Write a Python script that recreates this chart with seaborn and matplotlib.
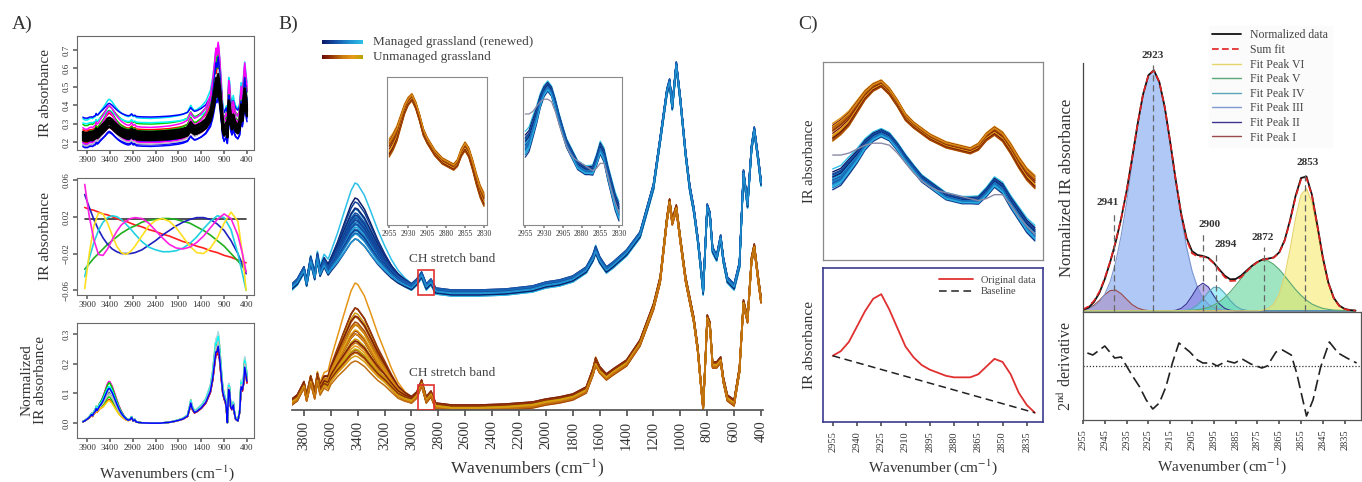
import numpy as np
import pandas as pd
import seaborn as sns
import matplotlib.pyplot as plt
from matplotlib.colors import LinearSegmentedColormap
from matplotlib.lines import Line2D
from matplotlib.patches import Rectangle

sns.set_theme(style="white")
plt.rcParams["font.family"] = ["Liberation Serif", "DejaVu Serif"]
plt.rcParams["mathtext.fontset"] = "stix"

# ---------------- data ----------------
# common wavenumber grid for the full spectra (cm-1)
wn_full = [3990, 3950, 3890, 3850, 3800, 3780, 3750, 3720, 3700, 3680,
           3650, 3620, 3600, 3550, 3500, 3450, 3420, 3400, 3350, 3300,
           3250, 3200, 3150, 3100, 3050, 3000, 2960, 2925, 2890, 2855,
           2820, 2700, 2500, 2300, 2100, 2000, 1900, 1800, 1700, 1650,
           1630, 1600, 1550, 1500, 1400, 1300, 1200, 1150, 1100, 1080,
           1060, 1030, 1000, 960, 930, 900, 870, 850, 830, 810,
           800, 780, 760, 730, 700, 680, 650, 600, 560, 530,
           500, 470, 450, 420, 400]

# shape of the O-H (water) band, used for sample-to-sample spread
water_band = [0, 0, 0, 0.02, 0.04, 0.05, 0.07, 0.09, 0.11, 0.13,
              0.17, 0.23, 0.3, 0.5, 0.72, 0.92, 1.0, 0.99, 0.9, 0.75,
              0.58, 0.42, 0.28, 0.17, 0.09, 0.04, 0.02, 0.01, 0, 0,
              0, 0, 0, 0, 0, 0, 0, 0, 0.01, 0.05,
              0.08, 0.04, 0.01, 0, 0, 0, 0, 0, 0, 0,
              0, 0, 0, 0, 0, 0, 0, 0, 0, 0,
              0, 0, 0, 0, 0, 0, 0, 0, 0, 0,
              0, 0, 0, 0, 0]

# panel A, raw spectra (median curve)
a1_base = [0.22, 0.215, 0.215, 0.22, 0.222, 0.22, 0.225, 0.228, 0.24, 0.232,
           0.236, 0.245, 0.25, 0.262, 0.275, 0.29, 0.295, 0.294, 0.285, 0.272,
           0.26, 0.25, 0.242, 0.236, 0.231, 0.228, 0.23, 0.238, 0.228, 0.231,
           0.224, 0.222, 0.221, 0.223, 0.226, 0.229, 0.232, 0.237, 0.246, 0.265,
           0.272, 0.262, 0.252, 0.255, 0.268, 0.288, 0.33, 0.38, 0.455, 0.49,
           0.475, 0.51, 0.46, 0.36, 0.27, 0.245, 0.26, 0.27, 0.235, 0.33,
           0.38, 0.365, 0.31, 0.28, 0.31, 0.29, 0.27, 0.258, 0.28, 0.36,
           0.33, 0.4, 0.44, 0.39, 0.36]
a1_offset = [0.32, 0.33, 0.29, 0.30, 0.27, 0.26, 0.25, 0.25, 0.24, 0.23, 0.23, 0.22,
             0.22, 0.22, 0.21, 0.21, 0.21, 0.20, 0.20, 0.19, 0.19, 0.18, 0.18, 0.17]
a1_scale = [1.4, 1.0, 1.3, 0.9, 1.6, 1.2, 1.0, 1.5, 0.9, 1.1, 1.7, 1.0,
            1.25, 0.8, 1.5, 1.1, 0.9, 1.3, 1.0, 1.6, 1.2, 0.9, 1.4, 1.1]
a1_black_offset = [0.205, 0.21, 0.215, 0.22, 0.225, 0.23, 0.235, 0.24, 0.245, 0.25]
a1_black_scale = [1.0, 0.9, 1.1, 1.0, 0.95, 1.05, 1.0, 0.9, 1.1, 1.0]

# panel A, baseline (polynomial) terms
wn_poly = [3950, 3850, 3750, 3650, 3550, 3450, 3350, 3250, 3150, 3050,
           2950, 2850, 2700, 2550, 2400, 2250, 2100, 1950, 1800, 1650,
           1500, 1350, 1200, 1050, 900, 750, 600, 500, 420]
poly_black = [0.017] * 29
poly_red = [0.030, 0.028, 0.027, 0.025, 0.023, 0.022, 0.020, 0.018, 0.016, 0.015,
            0.013, 0.011, 0.009, 0.006, 0.004, 0.001, -0.001, -0.004, -0.007, -0.009,
            -0.012, -0.014, -0.017, -0.019, -0.022, -0.024, -0.027, -0.029, -0.030]
poly_green = [-0.037, -0.031, -0.025, -0.020, -0.015, -0.010, -0.006, -0.002, 0.002, 0.005,
              0.008, 0.010, 0.014, 0.016, 0.017, 0.018, 0.018, 0.017, 0.015, 0.013,
              0.009, 0.005, 0.000, -0.006, -0.012, -0.020, -0.028, -0.034, -0.039]
poly_blue = [0.044, 0.030, 0.017, 0.006, -0.003, -0.010, -0.015, -0.018, -0.020, -0.020,
             -0.020, -0.019, -0.016, -0.011, -0.006, 0.000, 0.005, 0.010, 0.014, 0.017,
             0.019, 0.019, 0.017, 0.012, 0.005, -0.006, -0.020, -0.032, -0.042]
poly_cyan = [-0.045, -0.025, -0.008, 0.005, 0.014, 0.019, 0.021, 0.020, 0.017, 0.012,
             0.007, 0.001, -0.007, -0.013, -0.016, -0.018, -0.018, -0.017, -0.014, -0.009,
             -0.002, 0.007, 0.015, 0.021, 0.019, 0.006, -0.020, -0.042, -0.060]
poly_yellow = [-0.058, -0.020, 0.010, 0.024, 0.023, 0.013, 0.000, -0.012, -0.019, -0.021,
               -0.018, -0.012, -0.001, 0.010, 0.016, 0.018, 0.015, 0.008, -0.002, -0.012,
               -0.019, -0.020, -0.014, -0.003, 0.013, 0.025, 0.015, -0.020, -0.060]
poly_magenta = [0.055, 0.020, -0.005, -0.021, -0.022, -0.015, -0.005, 0.004, 0.011, 0.015,
                0.018, 0.019, 0.018, 0.013, 0.005, -0.003, -0.010, -0.014, -0.015, -0.013,
                -0.008, -0.001, 0.008, 0.017, 0.023, 0.018, 0.000, -0.020, -0.040]

# panel A, normalized spectra (median curve)
a3_base = [0.005, 0.008, 0.015, 0.02, 0.03, 0.025, 0.035, 0.04, 0.05, 0.042,
           0.05, 0.058, 0.06, 0.07, 0.085, 0.1, 0.105, 0.104, 0.092, 0.075,
           0.058, 0.042, 0.03, 0.021, 0.014, 0.01, 0.012, 0.02, 0.008, 0.012,
           0.004, 0.001, 0.0, 0.0, 0.003, 0.006, 0.01, 0.015, 0.025, 0.055,
           0.07, 0.052, 0.038, 0.042, 0.055, 0.075, 0.115, 0.16, 0.23, 0.255,
           0.255, 0.275, 0.235, 0.16, 0.11, 0.09, 0.075, 0.05, 0.002, 0.09,
           0.12, 0.11, 0.06, 0.05, 0.065, 0.04, 0.015, 0.008, 0.04, 0.13,
           0.12, 0.15, 0.2, 0.17, 0.15]
a3_water = [0.04, 0.03, 0.025, 0.02, 0.015, 0.01, 0.005, 0, -0.005, -0.01,
            -0.015, -0.02, -0.025, 0.012, -0.008, 0.018]
a3_scale = [0.95, 1.05, 0.9, 1.1, 1.0, 0.92, 1.08, 1.0, 0.97, 1.12,
            0.9, 1.03, 0.96, 1.06, 1.0, 0.94]

# panel B, offset spectra (height above axis, px-like units)
b_managed = [123, 123, 123, 128, 140, 127, 150, 134, 153, 138,
             148, 141, 146, 158, 172, 186, 191, 190, 182, 170,
             158, 148, 139, 132, 127, 123, 128, 135, 123, 128,
             119, 117, 117, 118, 121, 125, 127, 131, 140, 152,
             160, 150, 140, 145, 157, 175, 223, 270, 318, 328,
             303, 345, 310, 255, 222, 200, 170, 145, 118, 175,
             203, 195, 160, 152, 172, 150, 130, 123, 145, 237,
             205, 262, 280, 250, 227]
b_unmanaged = [8, 8, 8, 12, 25, 12, 30, 15, 32, 20,
               28, 27, 35, 48, 60, 72, 76, 75, 68, 57,
               46, 37, 27, 18, 13, 10, 15, 27, 10, 16,
               4, 2, 2, 3, 5, 8, 10, 13, 20, 38,
               48, 40, 33, 38, 47, 67, 103, 130, 190, 208,
               188, 202, 170, 130, 110, 90, 60, 30, 2, 60,
               92, 85, 45, 45, 50, 30, 12, 7, 40, 107,
               90, 150, 163, 130, 110]
managed_water = [34, 22, 16, 12, 10, 8, 6, 5, 4, 3, 2, 1, 0, -1,
                 -2, -3, -4, -5, -6, -7, -8, -9, -10, -12, -14, -16, -18, -20]
managed_shift = [2, -1, 1, -2, 0, 3, -3, 1, 0, -1, 2, -2, 1, 0,
                 -1, 2, -2, 0, 1, -1, 3, -3, 0, 1, -1, 2, -2, 0]
unmanaged_water = [50, 28, 24, 21, 18, 15, 13, 11, 9, 7, 5, 3, 1,
                   0, -2, -4, -6, -8, -10, -12, -14, -16, -18, -20, -22, -25]
unmanaged_shift = [1, -2, 2, 0, -1, 3, -3, 1, 0, 2, -2, 1, -1,
                   0, 2, -3, 1, -1, 3, 0, -2, 1, -1, 2, 0, -2]

# CH stretch band (2955-2830 cm-1)
wn_ch = [2955, 2950, 2945, 2940, 2935, 2930, 2925, 2920, 2915, 2910, 2905, 2900, 2895,
         2890, 2885, 2880, 2875, 2870, 2865, 2860, 2855, 2850, 2845, 2840, 2835, 2830]
ch_unmanaged = [0.64, 0.67, 0.71, 0.77, 0.83, 0.87, 0.89, 0.85, 0.79, 0.72, 0.68, 0.65, 0.62,
                0.60, 0.58, 0.57, 0.56, 0.55, 0.57, 0.62, 0.65, 0.62, 0.56, 0.49, 0.43, 0.39]
ch_managed = [0.40, 0.42, 0.47, 0.52, 0.58, 0.62, 0.64, 0.62, 0.57, 0.51, 0.46, 0.41, 0.38,
              0.35, 0.32, 0.31, 0.30, 0.30, 0.30, 0.34, 0.39, 0.36, 0.29, 0.23, 0.17, 0.13]
ch_managed_odd = [0.53, 0.53, 0.54, 0.56, 0.58, 0.59, 0.59, 0.58, 0.54, 0.49, 0.44, 0.40, 0.37,
                  0.35, 0.34, 0.33, 0.32, 0.31, 0.30, 0.31, 0.33, 0.33, 0.28, 0.22, 0.17, 0.13]
ch_spread = [1.0, 0.95, 0.85, 0.7, 0.55, 0.45, 0.4, 0.4, 0.4, 0.4, 0.35, 0.35, 0.35,
             0.35, 0.35, 0.35, 0.35, 0.35, 0.4, 0.45, 0.5, 0.55, 0.6, 0.65, 0.7, 0.75]
unmanaged_ch = [0.05, 0.04, 0.03, 0.02, 0.01, 0.0, -0.01, -0.02, -0.03, -0.04,
                0.015, -0.015, 0.025, -0.025, 0.035, -0.035]
managed_ch = [0.06, 0.045, 0.035, 0.025, 0.015, 0.005, -0.005, -0.015, -0.025, -0.035,
              -0.045, 0.01, -0.01, 0.02, -0.02, 0.03, -0.03, 0.0]

# baseline correction example
orig_data = [0.43, 0.46, 0.52, 0.62, 0.72, 0.80, 0.83, 0.73, 0.61, 0.49, 0.42, 0.37, 0.34,
             0.32, 0.30, 0.29, 0.29, 0.29, 0.31, 0.36, 0.41, 0.39, 0.31, 0.19, 0.11, 0.06]
baseline_wn = [2955, 2830]
baseline_val = [0.43, 0.06]

# peak fitting, grid 2955 -> 2830 every 2.5 cm-1
wn_fit = np.arange(2955, 2829, -2.5)
norm_data = [0.004, 0.013, 0.036, 0.074, 0.132, 0.204, 0.286, 0.383, 0.498, 0.633,
             0.774, 0.898, 0.979, 1.000, 0.951, 0.846, 0.701, 0.545, 0.405, 0.302,
             0.248, 0.232, 0.228, 0.220, 0.199, 0.172, 0.146, 0.131, 0.132, 0.146,
             0.167, 0.187, 0.203, 0.214, 0.217, 0.222, 0.243, 0.294, 0.378, 0.478,
             0.552, 0.558, 0.482, 0.355, 0.222, 0.118, 0.054, 0.022, 0.008, 0.003, 0.001]
peak_2941 = [0.003, 0.010, 0.023, 0.043, 0.067, 0.084, 0.086, 0.071, 0.048, 0.026,
             0.012, 0.004, 0.001] + [0] * 38
peak_2923 = [0.003, 0.008, 0.018, 0.036, 0.069, 0.122, 0.202, 0.312, 0.450, 0.607,
             0.762, 0.894, 0.978, 0.999, 0.951, 0.846, 0.701, 0.543, 0.392, 0.264,
             0.166, 0.098, 0.053, 0.027, 0.013, 0.006, 0.002, 0.001] + [0] * 23
peak_2900 = [0] * 17 + [0.002, 0.010, 0.029, 0.062, 0.099, 0.115, 0.099, 0.062, 0.029,
                        0.010, 0.002] + [0] * 23
peak_2894 = [0] * 19 + [0.003, 0.009, 0.024, 0.049, 0.078, 0.098, 0.096, 0.073, 0.043,
                        0.020, 0.007, 0.002] + [0] * 20
peak_2872 = [0] * 20 + [0.002, 0.005, 0.008, 0.014, 0.024, 0.037, 0.055, 0.078, 0.105,
                        0.133, 0.161, 0.185, 0.202, 0.210, 0.207, 0.193, 0.172, 0.145,
                        0.116, 0.088, 0.064, 0.044, 0.028, 0.018, 0.010, 0.006, 0.003,
                        0.002, 0.001, 0, 0]
peak_2853 = [0] * 33 + [0.003, 0.009, 0.028, 0.069, 0.146, 0.258, 0.385, 0.482, 0.508,
                        0.450, 0.335, 0.210, 0.110, 0.049, 0.018, 0.006, 0.002, 0.001]
peak_pos = [2941, 2923, 2900, 2894, 2872, 2853]

deriv_wn = [2953, 2950.5, 2945, 2940.5, 2937.5, 2934.5, 2932, 2929, 2926, 2923, 2920, 2917,
            2914, 2911, 2906, 2902.5, 2900, 2896, 2893.5, 2889, 2885.5, 2882, 2878, 2873,
            2870.5, 2866.5, 2863.5, 2859.5, 2857, 2854.5, 2852.5, 2849.5, 2846, 2842, 2838,
            2834, 2829.5]
deriv_val = [13, 11, 20, 8, 9, -2, -11, -21, -34, -43, -37, -21, 3, 23, 14, 6, 3, 3, 0,
             5, 3, 7, 2, -2, 0, 14, 16, 11, -7, -31, -50, -34, -1, 24, 13, 8, 3]

# ---------------- helpers ----------------
W, H = 1362, 482
TXT = "#333333"
SPINE = "#6a6a6a"


def rect(l, t, r, b):
    return [l / W, 1 - b / H, (r - l) / W, (b - t) / H]


def draw_lines(ax, x, curves, colors, lw):
    names = [f"s{i}" for i in range(len(curves))]
    df = pd.DataFrame({"wn": np.tile(np.asarray(x, float), len(curves)),
                       "val": np.concatenate([np.asarray(c, float) for c in curves]),
                       "sample": np.repeat(names, len(x))})
    sns.lineplot(data=df, x="wn", y="val", hue="sample", palette=dict(zip(names, colors)),
                 estimator=None, sort=False, legend=False, lw=lw, ax=ax)
    ax.set_xlabel("")
    ax.set_ylabel("")


def box(ax, color=SPINE, lw=0.8):
    for s in ax.spines.values():
        s.set_visible(True)
        s.set_color(color)
        s.set_linewidth(lw)


def shades(n, top=1.0):
    s = (np.arange(n) * 0.618) % 1.0
    s[0], s[1] = top, 0.0
    return s


managed_cmap = LinearSegmentedColormap.from_list(
    "managed", ["#0a1a66", "#1550a8", "#1f8fd0", "#2ec0e8"])
unmanaged_cmap = LinearSegmentedColormap.from_list(
    "unmanaged", ["#6a0c06", "#9a3a08", "#c87a10", "#e89a18", "#b8a400"])

fig = plt.figure(figsize=(13.62, 4.82), dpi=100)

wn_a = np.array(wn_full, float)
water = np.array(water_band)

# ---------------- panel A ----------------
a_xt = [3900, 3400, 2900, 2400, 1900, 1400, 900, 400]

axA1 = fig.add_axes(rect(77, 36, 254, 150))
base1 = np.array(a1_base)
a1_colors = ["#00e5ee", "#0000ff", "#00cd00", "#00ffff", "#ff00ff", "#ff0000", "#ffff00",
             "#00cd00", "#0000ff", "#bebebe", "#ff00ff", "#ff0000", "#ffff00", "#00ffff",
             "#00cd00", "#0000ff", "#ff00ff", "#ffff00", "#ff0000", "#0000ff", "#ff00ff",
             "#0000ff", "#bebebe", "#0000ff"]
curves = [o + s * (base1 - 0.215) for o, s in zip(a1_offset, a1_scale)]
draw_lines(axA1, wn_a, curves, a1_colors, 1.1)
curves = [o + s * (base1 - 0.215) for o, s in zip(a1_black_offset, a1_black_scale)]
draw_lines(axA1, wn_a, curves, ["#000000"] * len(curves), 1.6)
axA1.set_ylim(0.157, 0.776)
axA1.set_yticks([0.2, 0.3, 0.4, 0.5, 0.6, 0.7])

axA2 = fig.add_axes(rect(77, 178, 254, 295))
draw_lines(axA2, wn_poly,
           [poly_black, poly_red, poly_green, poly_blue, poly_cyan, poly_yellow, poly_magenta],
           ["#333333", "#ff2020", "#20b020", "#2020c0", "#20d0e0", "#ffe020", "#ff20e0"], 1.2)
axA2.set_ylim(-0.065, 0.062)
axA2.set_yticks([-0.06, -0.02, 0.02, 0.06])

axA3 = fig.add_axes(rect(77, 323, 254, 438))
base3 = np.array(a3_base)
a3_colors = ["#ff0000", "#ff00ff", "#0000ff", "#00cd00", "#00ffff", "#ffff00", "#bebebe",
             "#000000", "#90ee90", "#add8e6", "#ff0000", "#00cd00", "#ffd700", "#00ffff",
             "#bebebe", "#0000ff"]
curves = [s * base3 + w * water for w, s in zip(a3_water, a3_scale)]
draw_lines(axA3, wn_a, curves, a3_colors, 1.1)
axA3.set_ylim(-0.05, 0.337)
axA3.set_yticks([0.0, 0.1, 0.2, 0.3])

for ax in (axA1, axA2, axA3):
    box(ax)
    ax.set_xlim(4119, 247)
    ax.set_xticks(a_xt)
    ax.tick_params(axis="both", labelsize=6.5, length=3, direction="out", color=SPINE,
                   labelcolor=TXT, bottom=True, left=True, pad=1.5)
    ax.tick_params(axis="y", labelrotation=90)
    for lbl in ax.get_yticklabels():
        lbl.set_va("center")
axA1.set_ylabel("IR absorbance", fontsize=11, color=TXT)
axA1.yaxis.set_label_coords(-0.14, 0.5)
axA2.set_ylabel("IR absorbance", fontsize=11, color=TXT)
axA2.yaxis.set_label_coords(-0.14, 0.5)
axA3.set_ylabel("Normalized\nIR absorbance", fontsize=11, color=TXT, linespacing=1.0)
axA3.yaxis.set_label_coords(-0.17, 0.5)
axA3.set_xlabel("Wavenumbers (cm$^{-1}$)", fontsize=11, color=TXT)
axA3.xaxis.set_label_coords(0.51, -0.22)

# ---------------- panel B ----------------
axB = fig.add_axes(rect(292, 40, 763, 410))
man = [np.array(b_managed) + w * water + s for w, s in zip(managed_water, managed_shift)]
unm = [np.array(b_unmanaged) + w * water + s for w, s in zip(unmanaged_water, unmanaged_shift)]
draw_lines(axB, wn_a, man, managed_cmap(shades(len(man))), 1.1)
draw_lines(axB, wn_a, unm, unmanaged_cmap(shades(len(unm), 0.72)), 1.1)
axB.set_xlim(3889, 385)
axB.set_ylim(0, 370)
for s in ["top", "right", "left"]:
    axB.spines[s].set_visible(False)
axB.spines["bottom"].set_color("#555555")
axB.set_yticks([])
axB.set_xticks(list(range(3800, 399, -200)))
axB.tick_params(axis="x", labelsize=10.5, labelrotation=90, length=4, direction="out",
                color="#555555", labelcolor=TXT, bottom=True)
axB.set_xlabel("Wavenumbers (cm$^{-1}$)", fontsize=12.5, color=TXT)
axB.xaxis.set_label_coords(0.5, -0.128)
for y0, ty in [(115, 151), (0, 37)]:
    axB.add_patch(Rectangle((2835, y0), 120, 25, fill=False, ec="#e03030", lw=1.2, zorder=5))
    axB.text(3020, ty, "CH stretch band", fontsize=9.5, color="#444444", va="center", ha="left")

# insets
ch_sp = np.array(ch_spread)
axI1 = fig.add_axes(rect(387, 77, 487, 225))
cu = [np.array(ch_unmanaged) + f * ch_sp for f in unmanaged_ch]
draw_lines(axI1, wn_ch, cu, unmanaged_cmap(shades(len(cu), 0.72)), 0.9)
axI1.set_ylim(0.27, 0.99)
axI2 = fig.add_axes(rect(523, 77, 622, 225))
cm_ = [np.array(ch_managed) + f * ch_sp for f in managed_ch] + [ch_managed_odd]
cm_colors = list(managed_cmap(shades(len(cm_) - 1))) + ["#8a8aa8"]
draw_lines(axI2, wn_ch, cm_, cm_colors, 0.9)
axI2.set_ylim(0.08, 0.68)
for ax in (axI1, axI2):
    box(ax, "#8a8a8a", 0.8)
    ax.set_xlim(2958, 2826)
    ax.set_xticks([2955, 2930, 2905, 2880, 2855, 2830])
    ax.set_yticks([])
    ax.tick_params(axis="x", labelsize=5.5, length=2, direction="out", color="#888888",
                   labelcolor=TXT, bottom=True, pad=1.5)

# gradient legend
for yc, cmap, label in [(42, managed_cmap, "Managed grassland (renewed)"),
                        (57, unmanaged_cmap, "Unmanaged grassland")]:
    lax = fig.add_axes(rect(322, yc - 2.5, 363, yc + 2.5))
    lax.imshow(np.linspace(0, 1, 64)[None, :], cmap=cmap, aspect="auto")
    lax.axis("off")
    fig.text(373 / W, 1 - yc / H, label, fontsize=9.5, color="#444444", va="center")

# ---------------- panel C left ----------------
axCt = fig.add_axes(rect(823, 62, 1043, 260))
cu = [np.array(ch_unmanaged) + f * ch_sp for f in unmanaged_ch]
draw_lines(axCt, wn_ch, cu, unmanaged_cmap(shades(len(cu), 0.72)), 1.0)
draw_lines(axCt, wn_ch, cm_, cm_colors, 1.0)
axCt.set_ylim(0, 1.0)
axCt.set_xlim(2961, 2825)
axCt.set_xticks([])
axCt.set_yticks([])
box(axCt, "#8a8a8a", 0.9)
axCt.set_ylabel("IR absorbance", fontsize=10.5, color=TXT)
axCt.yaxis.set_label_coords(-0.03, 0.5)

axCb = fig.add_axes(rect(823, 268, 1043, 422))
sns.lineplot(x=wn_ch, y=orig_data, color="#e03030", lw=1.3, ax=axCb, sort=False,
             label="Original data")
sns.lineplot(x=baseline_wn, y=baseline_val, color="#222222", lw=1.1, ls=(0, (5, 3)),
             ax=axCb, sort=False, label="Baseline")
axCb.legend(loc="upper right", frameon=False, fontsize=7.5, handlelength=3.2,
            labelspacing=0.25, borderaxespad=0.3, labelcolor="#444444")
axCb.set_ylim(0, 1.0)
axCb.set_xlim(2961, 2825)
axCb.set_yticks([])
axCb.set_xticks(list(range(2955, 2834, -15)))
box(axCb, "#3b3b8f", 1.2)
axCb.tick_params(axis="x", labelsize=7.5, labelrotation=90, length=3, direction="out",
                 color="#555555", labelcolor=TXT, bottom=True)
axCb.set_ylabel("IR absorbance", fontsize=11, color=TXT)
axCb.yaxis.set_label_coords(-0.03, 0.5)
axCb.set_xlabel("Wavenumber (cm$^{-1}$)", fontsize=11, color=TXT)
axCb.xaxis.set_label_coords(0.5, -0.23)

# ---------------- panel C right ----------------
axF = fig.add_axes(rect(1083, 63, 1361, 312))
peaks = [peak_2941, peak_2923, peak_2900, peak_2894, peak_2872, peak_2853]
fills = ["#f07080", "#6f9cf0", "#8070e0", "#60e0f0", "#50d090", "#f5e860"]
edges = ["#9a4a4a", "#7f98d0", "#3a3490", "#58a8b8", "#5aa874", "#e6d46a"]
for pk, fc, ec in zip(peaks, fills, edges):
    axF.fill_between(wn_fit, 0, pk, color=fc, alpha=0.55, lw=0)
    sns.lineplot(x=wn_fit, y=pk, color=ec, lw=0.8, ax=axF, sort=False)
sum_fit = np.sum(np.array(peaks, float), axis=0)
sns.lineplot(x=wn_fit, y=norm_data, color="#111111", lw=1.3, ax=axF, sort=False)
sns.lineplot(x=wn_fit, y=sum_fit, color="#e02020", lw=1.2, ls=(0, (4, 2)), ax=axF, sort=False)
label_x = [2943.5, 2923, 2897, 2889.5, 2872.5, 2852]
label_y = [0.45, 1.06, 0.36, 0.275, 0.305, 0.615]
for p, lx, ly in zip(peak_pos, label_x, label_y):
    axF.plot([p, p], [0, ly - 0.04], color="#666666", lw=0.9, ls=(0, (5, 3)))
    axF.text(lx, ly, str(p), fontsize=8, fontweight="bold", color="#333333",
             ha="center", va="center", clip_on=False)
axF.set_xlim(2955, 2827.5)
axF.set_ylim(-0.005, 1.03)
axF.set_xticks([])
axF.set_yticks([])
for s in ["top", "right", "bottom"]:
    axF.spines[s].set_visible(False)
axF.spines["left"].set_color("#444444")
axF.spines["left"].set_linewidth(0.9)
axF.set_xlabel("")
axF.set_ylabel("Normalized IR absorbance", fontsize=12, color=TXT)
axF.yaxis.set_label_coords(-0.03, 0.5)

handles = [Line2D([], [], color="#111111", lw=1.3),
           Line2D([], [], color="#e02020", lw=1.2, ls=(0, (4, 2))),
           Line2D([], [], color=edges[5], lw=1.0),
           Line2D([], [], color=edges[4], lw=1.0),
           Line2D([], [], color=edges[3], lw=1.0),
           Line2D([], [], color=edges[1], lw=1.0),
           Line2D([], [], color=edges[2], lw=1.0),
           Line2D([], [], color=edges[0], lw=1.0)]
labels = ["Normalized data", "Sum fit", "Fit Peak VI", "Fit Peak V", "Fit Peak IV",
          "Fit Peak III", "Fit Peak II", "Fit Peak I"]
fig.legend(handles, labels, loc="upper left", bbox_to_anchor=(1203 / W, 1 - 20 / H),
           fontsize=8.5, frameon=True, facecolor="#fbfbfb", edgecolor="#fbfbfb",
           framealpha=1, handlelength=2.4, labelspacing=0.22, borderpad=0.3,
           labelcolor="#444444", fancybox=False)

axD = fig.add_axes(rect(1083, 312, 1361, 420))
sns.lineplot(x=deriv_wn, y=deriv_val, color="#222222", lw=1.2, ls=(0, (7, 3)), ax=axD, sort=False)
axD.axhline(0, color="#333333", lw=0.9, ls=(0, (1, 1.5)))
axD.set_xlim(2955, 2827.5)
axD.set_ylim(-54, 54)
axD.set_yticks([])
axD.set_xticks(list(range(2955, 2834, -10)))
box(axD, "#555555", 0.9)
axD.tick_params(axis="x", labelsize=7.5, labelrotation=90, length=3, direction="out",
                color="#555555", labelcolor=TXT, bottom=True)
axD.set_ylabel("2$^{\\rm nd}$ derivative", fontsize=11.5, color=TXT)
axD.yaxis.set_label_coords(-0.03, 0.5)
axD.set_xlabel("Wavenumber (cm$^{-1}$)", fontsize=11, color=TXT)
axD.xaxis.set_label_coords(0.5, -0.34)

# panel letters
for x, lab in [(12, "A)"), (278, "B)"), (798, "C)")]:
    fig.text(x / W, 1 - 24 / H, lab, fontsize=14, color=TXT, va="center")

fig.savefig("out.png", dpi=100)
